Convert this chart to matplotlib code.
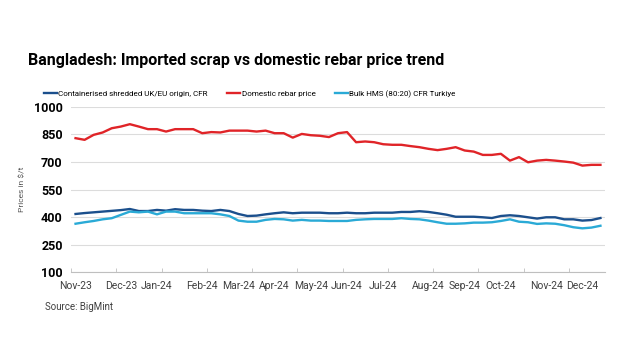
import matplotlib.pyplot as plt
from matplotlib.ticker import FixedLocator

plt.rcParams["font.family"] = ["Roboto", "DejaVu Sans"]

# weekly points, Nov-23 .. Dec-24
labels = ["Nov-23", "Dec-23", "Jan-24", "Feb-24", "Mar-24", "Apr-24", "May-24",
          "Jun-24", "Jul-24", "Aug-24", "Sep-24", "Oct-24", "Nov-24", "Dec-24"]
label_pos = [0, 5, 9, 14, 18, 22, 26, 30, 34, 39, 43, 47, 52, 56]

rebar = [829, 820, 847, 860, 883, 892, 905, 892, 878, 878, 865, 878, 878, 878, 856,
         862, 860, 870, 870, 870, 865, 870, 856, 856, 832, 852, 845, 842, 835, 856,
         862, 807, 811, 807, 796, 793, 793, 786, 780, 771, 764, 771, 780, 762, 756,
         738, 738, 744, 707, 726, 698, 707, 711, 707, 702, 696, 680, 684, 684]

shredded = [417, 422, 426, 430, 434, 438, 444, 433, 433, 439, 435, 443, 439, 439, 435,
            433, 439, 433, 417, 406, 408, 415, 421, 426, 421, 424, 424, 424, 421, 421,
            424, 421, 421, 424, 424, 424, 428, 428, 432, 428, 421, 413, 402, 402, 402,
            399, 395, 406, 410, 406, 399, 392, 399, 399, 388, 388, 381, 384, 395]

hms = [364, 372, 379, 388, 394, 412, 430, 426, 430, 415, 430, 430, 421, 421, 421,
       421, 415, 406, 381, 375, 375, 385, 390, 388, 381, 385, 381, 381, 379, 379,
       379, 385, 388, 390, 390, 390, 394, 390, 388, 381, 372, 364, 364, 366, 370,
       370, 372, 379, 388, 375, 372, 363, 366, 364, 356, 345, 339, 343, 353]

x = list(range(len(rebar)))

fig = plt.figure(figsize=(6.29, 3.43), dpi=100)
ax = fig.add_axes([0.1129, 0.2061, 0.8489, 0.4828])

ax.plot(x, shredded, color="#1b4f8c", lw=1.7, label="Containerised shredded UK/EU origin, CFR")
ax.plot(x, rebar, color="#e02428", lw=1.7, label="Domestic rebar price")
ax.plot(x, hms, color="#2aaad6", lw=1.7, label="Bulk HMS (80:20) CFR Turkiye")

ax.set_ylim(100, 1000)
ax.set_yticks(range(100, 1001, 150))
ax.set_xlim(-0.5, len(x) - 0.5)
ax.set_xticks(label_pos)
ax.set_xticklabels(labels)
ax.xaxis.set_minor_locator(FixedLocator([-0.5 + 5 * k for k in range(12)]))

ax.grid(axis="y", color="#dcdcdc", lw=0.8)
ax.set_axisbelow(True)
for s in ["top", "right", "left"]:
    ax.spines[s].set_visible(False)
ax.spines["bottom"].set_color("#bfbfbf")
ax.tick_params(axis="x", which="major", length=0, labelsize=7.5, labelcolor="#404040", pad=6)
ax.tick_params(axis="x", which="minor", length=3, direction="in", color="#bfbfbf")
ax.tick_params(axis="y", length=0, labelsize=9, pad=6)
for t in ax.get_yticklabels():
    t.set_fontweight("bold")

ax.set_ylabel("Prices in $/t", fontsize=6, color="#555555", labelpad=6)

fig.text(0.045, 0.825, "Bangladesh: Imported scrap vs domestic rebar price trend",
         fontsize=11.5, fontweight="bold", va="center")
fig.legend(loc="center", bbox_to_anchor=(0.397, 0.726), ncol=3, frameon=False,
           fontsize=5.8, handlelength=1.6, handletextpad=0.2, columnspacing=2.4)
fig.text(0.072, 0.105, "Source: BigMint", fontsize=7, color="#404040", va="center")

fig.savefig("out.png", dpi=100)
